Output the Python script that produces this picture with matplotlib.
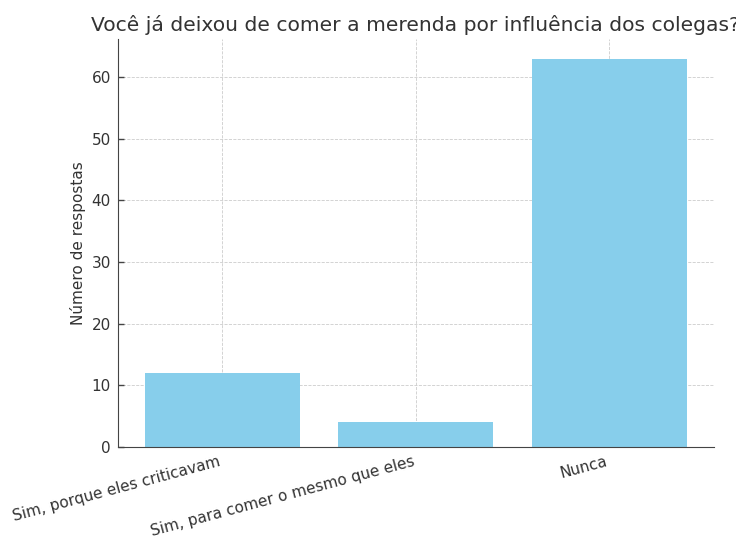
import matplotlib
matplotlib.use("Agg")
import matplotlib.pyplot as plt

categories = ["Sim, porque eles criticavam", "Sim, para comer o mesmo que eles", "Nunca"]
counts = [12, 4, 63]
title = "Você já deixou de comer a merenda por influência dos colegas?"
ylabel = "Número de respostas"

text_color = "#333333"
plt.rcParams["font.family"] = "DejaVu Sans"

fig = plt.figure(figsize=(7.36, 5.38), dpi=100)
ax = fig.add_axes([0.160, 0.169, 0.810, 0.758])

x = list(range(len(categories)))
ax.bar(x, counts, width=0.8, color="skyblue", zorder=2)

ax.set_xticks(x)
ax.set_xticklabels(categories, rotation=15, ha="right", fontsize=11, color=text_color)
ax.tick_params(axis="both", direction="in", length=4, width=1, color="#444444", pad=5)
ax.tick_params(axis="y", labelsize=11, labelcolor=text_color)
ax.set_ylabel(ylabel, fontsize=11, color=text_color)
ax.set_title(title, fontsize=14.6, color=text_color)

ax.grid(True, linestyle="--", linewidth=0.6, color="#cccccc", zorder=0)
ax.set_axisbelow(True)
for side in ["top", "right"]:
    ax.spines[side].set_visible(False)
for side in ["left", "bottom"]:
    ax.spines[side].set_color("#444444")

fig.savefig("out.png", dpi=100)
